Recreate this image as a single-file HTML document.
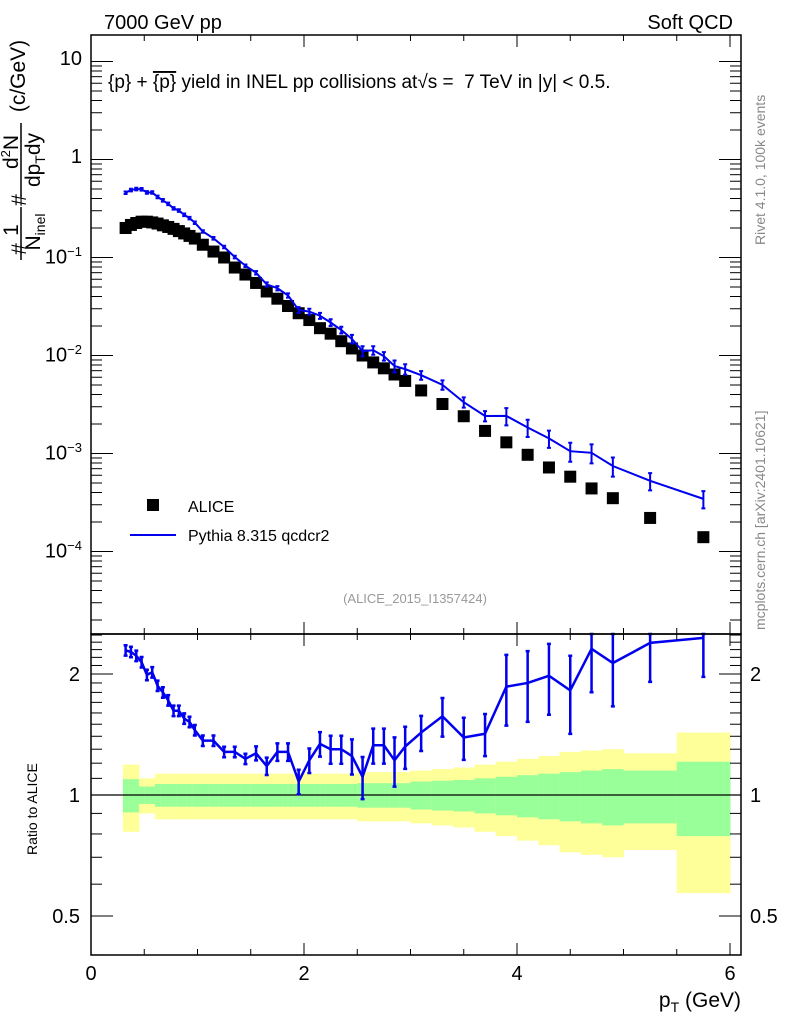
<!DOCTYPE html>
<html><head><meta charset="utf-8"><style>
body{margin:0;background:#fff;width:786px;height:1024px;overflow:hidden}
svg{font-family:"Liberation Sans",sans-serif}
</style></head><body>
<svg id="c" width="786" height="1024" viewBox="0 0 786 1024">
<text x="104" y="29" font-size="20">7000 GeV pp</text>
<text x="733" y="29" font-size="20" text-anchor="end">Soft QCD</text>
<text x="108" y="88" font-size="19">{p} + <tspan text-decoration="overline">{p}</tspan> yield in INEL pp collisions at√s =&#160; 7 TeV in |y| &lt; 0.5.</text>
<text x="415" y="603" font-size="13" fill="#999" text-anchor="middle">(ALICE_2015_I1357424)</text>
<text transform="translate(765,245) rotate(-90)" font-size="14" fill="#888">Rivet 4.1.0,  100k events</text>
<text transform="translate(765,630) rotate(-90)" font-size="14" fill="#888">mcplots.cern.ch [arXiv:2401.10621]</text>
<g font-size="21" text-anchor="middle">
<text transform="translate(26,249) rotate(-90)">#</text>
<text transform="translate(18,230) rotate(-90)">1</text>
<line x1="21" x2="21" y1="207" y2="260" stroke="#000" stroke-width="1.5"/>
<text transform="translate(40,232) rotate(-90)">N<tspan font-size="14" dy="5">inel</tspan></text>
<text transform="translate(26,200) rotate(-90)">#</text>
<text transform="translate(18,152) rotate(-90)">d<tspan font-size="13" dy="-8">2</tspan><tspan dy="8">N</tspan></text>
<line x1="21" x2="21" y1="123" y2="197" stroke="#000" stroke-width="1.5"/>
<text transform="translate(40,160) rotate(-90)">dp<tspan font-size="14" dy="5">T</tspan><tspan dy="-5">dy</tspan></text>
<text transform="translate(25,76) rotate(-90)">(c/GeV)</text>
</g>
<text transform="translate(37,855) rotate(-90)" font-size="14">Ratio to ALICE</text>
<text x="741" y="1007" font-size="21" text-anchor="end">p<tspan font-size="14" dy="5">T</tspan><tspan dy="-5"> (GeV)</tspan></text>
<g id="main"></g><g id="ratio"></g>
</svg>
<script>
const pT=[0.325,0.375,0.425,0.475,0.525,0.575,0.625,0.675,0.725,0.775,0.825,0.875,0.925,0.975,1.05,1.15,1.25,1.35,1.45,1.55,1.65,1.75,1.85,1.95,2.05,2.15,2.25,2.35,2.45,2.55,2.65,2.75,2.85,2.95,3.1,3.3,3.5,3.7,3.9,4.1,4.3,4.5,4.7,4.9,5.25,5.75];
const binLo=[0.3,0.35,0.4,0.45,0.5,0.55,0.6,0.65,0.7,0.75,0.8,0.85,0.9,0.95,1.0,1.1,1.2,1.3,1.4,1.5,1.6,1.7,1.8,1.9,2.0,2.1,2.2,2.3,2.4,2.5,2.6,2.7,2.8,2.9,3.0,3.2,3.4,3.6,3.8,4.0,4.2,4.4,4.6,4.8,5.0,5.5];
const binHi=[0.35,0.4,0.45,0.5,0.55,0.6,0.65,0.7,0.75,0.8,0.85,0.9,0.95,1.0,1.1,1.2,1.3,1.4,1.5,1.6,1.7,1.8,1.9,2.0,2.1,2.2,2.3,2.4,2.5,2.6,2.7,2.8,2.9,3.0,3.2,3.4,3.6,3.8,4.0,4.2,4.4,4.6,4.8,5.0,5.5,6.0];
const alice=[0.2,0.215,0.225,0.232,0.232,0.228,0.222,0.213,0.205,0.196,0.186,0.176,0.166,0.156,0.135,0.115,0.1,0.079,0.067,0.055,0.045,0.038,0.032,0.027,0.023,0.019,0.0167,0.014,0.0118,0.01,0.0085,0.0074,0.0064,0.0055,0.0044,0.0032,0.0024,0.0017,0.0013,0.00097,0.00072,0.00058,0.00044,0.00035,0.00022,0.00014];
const ratio=[2.29,2.27,2.22,2.14,1.99,2.02,1.87,1.8,1.72,1.62,1.62,1.55,1.52,1.45,1.365,1.365,1.28,1.28,1.23,1.27,1.18,1.28,1.28,1.08,1.22,1.34,1.3,1.3,1.25,1.11,1.33,1.33,1.22,1.32,1.43,1.57,1.39,1.42,1.86,1.9,1.98,1.82,2.31,2.13,2.39,2.46];
const ratioErr=[0.03,0.03,0.03,0.03,0.03,0.03,0.03,0.03,0.03,0.03,0.03,0.03,0.03,0.03,0.03,0.03,0.03,0.03,0.03,0.04,0.05,0.05,0.05,0.07,0.07,0.07,0.08,0.08,0.1,0.12,0.1,0.1,0.14,0.12,0.1,0.11,0.12,0.12,0.2,0.2,0.2,0.22,0.22,0.22,0.2,0.2];
const statErr=[0.095,0.095,0.095,0.05,0.05,0.05,0.065,0.065,0.065,0.065,0.065,0.065,0.065,0.065,0.065,0.065,0.065,0.065,0.065,0.065,0.065,0.065,0.065,0.065,0.065,0.065,0.065,0.065,0.065,0.07,0.07,0.07,0.07,0.07,0.08,0.085,0.09,0.1,0.11,0.12,0.13,0.14,0.15,0.16,0.15,0.21];
const totErr=[0.19,0.19,0.19,0.1,0.1,0.1,0.13,0.13,0.13,0.13,0.13,0.13,0.13,0.13,0.13,0.13,0.13,0.13,0.13,0.13,0.13,0.13,0.13,0.13,0.13,0.13,0.13,0.13,0.13,0.14,0.14,0.14,0.14,0.14,0.15,0.16,0.17,0.19,0.21,0.23,0.25,0.28,0.29,0.3,0.27,0.43];
const xTicks=[0,2,4,6];
const mainTicks=[10,1,0.1,0.01,0.001,0.0001];
const mainTickLabels=["10","1","10<sup>−1</sup>","10<sup>−2</sup>","10<sup>−3</sup>","10<sup>−4</sup>"];
const ratioTicks=[0.5,1,2];

const NS="http://www.w3.org/2000/svg";
const X0=91,X1=741,MT=35,MB=634,RT=634,RB=955;
const sx=v=>X0+v*106.5;
const sy=v=>159.5-98*Math.log10(v);
const sr=v=>795-121*Math.log2(v);
function el(p,t,a){const e=document.createElementNS(NS,t);for(const k in a)e.setAttribute(k,a[k]);p.appendChild(e);return e;}
const main=document.getElementById('main'),rat=document.getElementById('ratio');

for(let i=0;i<pT.length;i++){
 const y=el(rat,'rect',{x:sx(binLo[i]),width:sx(binHi[i])-sx(binLo[i])+0.5,y:sr(1+totErr[i]),height:sr(1-totErr[i])-sr(1+totErr[i]),fill:'#ffff99'});
 
 
 const g=el(rat,'rect',{x:sx(binLo[i]),width:sx(binHi[i])-sx(binLo[i])+0.5,y:sr(1+statErr[i]),height:sr(1-statErr[i])-sr(1+statErr[i]),fill:'#99ff99'});
 
 
}
el(rat,'line',{x1:X0,x2:X1,y1:sr(1),y2:sr(1),stroke:'#000','stroke-width':1.3});

for(const [t,b,n] of [[MT,MB,'main-frame'],[RT,RB,'ratio-frame']]){
 const f=el(document.getElementById('c'),'rect',{x:X0,y:t,width:X1-X0,height:b-t,fill:'none',stroke:'#000','stroke-width':1.5});
 
 
}
const svg=document.getElementById('c');
for(let v=0;v<=6.01;v+=0.5){
 const L=(Math.abs(v-Math.round(v/2)*2)<0.01)?12:6;
 for(const [t,b] of [[MT,MB],[RT,RB]]){
  el(svg,'line',{x1:sx(v),x2:sx(v),y1:t,y2:t+L,stroke:'#000'});
  el(svg,'line',{x1:sx(v),x2:sx(v),y1:b,y2:b-L,stroke:'#000'});
 }
}
xTicks.forEach(v=>{const t=el(svg,'text',{x:sx(v),y:980,'font-size':20,'text-anchor':'middle'});t.textContent=v;
 
 });
for(let d=-5;d<=1;d++){for(let m=1;m<10;m++){const v=m*Math.pow(10,d);const y=sy(v);if(y<MT||y>MB)continue;const L=m==1?22:11;
 el(svg,'line',{x1:X0,x2:X0+L,y1:y,y2:y,stroke:'#000'});el(svg,'line',{x1:X1,x2:X1-L,y1:y,y2:y,stroke:'#000'});}}
mainTicks.forEach((v,i)=>{const fo=el(svg,'foreignObject',{x:20,y:sy(v)-14,width:62,height:30});
 fo.innerHTML='<div xmlns="http://www.w3.org/1999/xhtml" style="font:20px Liberation Sans,sans-serif;text-align:right">'+mainTickLabels[i].replace('<sup>','<sup style="font-size:13px">')+'</div>';
 
 });
for(let v=0.4;v<2.55;v+=0.1){const y=sr(v);if(y<RT||y>RB)continue;const maj=ratioTicks.some(t=>Math.abs(t-v)<0.01);const L=maj?22:11;
 el(svg,'line',{x1:X0,x2:X0+L,y1:y,y2:y,stroke:'#000'});el(svg,'line',{x1:X1,x2:X1-L,y1:y,y2:y,stroke:'#000'});}
ratioTicks.forEach(v=>{for(const [x,a] of [[80,'end'],[750,'start']]){const t=el(svg,'text',{x:x,y:sr(v)+7,'font-size':20,'text-anchor':a});t.textContent=v;
 
 }});

pT.forEach((p,i)=>{const s=el(main,'rect',{x:sx(p)-6,y:sy(alice[i])-6,width:12,height:12,fill:'#000'});
 
 });
let d='';
pT.forEach((p,i)=>{const v=alice[i]*ratio[i];d+=(i?'L':'M')+sx(p)+','+sy(v);
 const e=ratioErr[i];const y1=sy(v*(1+e)),y2=sy(v*(1-e));
 const b=el(main,'path',{d:`M${sx(p)},${y1}V${y2}M${sx(p)-2},${y1}h4M${sx(p)-2},${y2}h4`,stroke:'#0000ee','stroke-width':2,fill:'none'});
 
 });
const ln=el(main,'path',{d:d,stroke:'#0000ee','stroke-width':2,fill:'none'});


let dr='';
pT.forEach((p,i)=>{const v=ratio[i];dr+=(i?'L':'M')+sx(p)+','+sr(v);
 const e=ratioErr[i];const y1=Math.max(RT,sr(v*(1+e))),y2=sr(v*(1-e));
 const b=el(rat,'path',{d:`M${sx(p)},${y1}V${y2}M${sx(p)-2},${y1}h4M${sx(p)-2},${y2}h4`,stroke:'#0000ee','stroke-width':2.5,fill:'none'});
 
 });
const rl=el(rat,'path',{d:dr,stroke:'#0000ee','stroke-width':2.5,fill:'none'});


const l1=el(svg,'rect',{x:147,y:499,width:12,height:12,fill:'#000'});


const t1=el(svg,'text',{x:188,y:512,'font-size':16});t1.textContent='ALICE';


const l2=el(svg,'line',{x1:130,x2:176,y1:535,y2:535,stroke:'#0000ee','stroke-width':2});


const t2=el(svg,'text',{x:188,y:541,'font-size':16});t2.textContent='Pythia 8.315 qcdcr2';


</script>
</body></html>
